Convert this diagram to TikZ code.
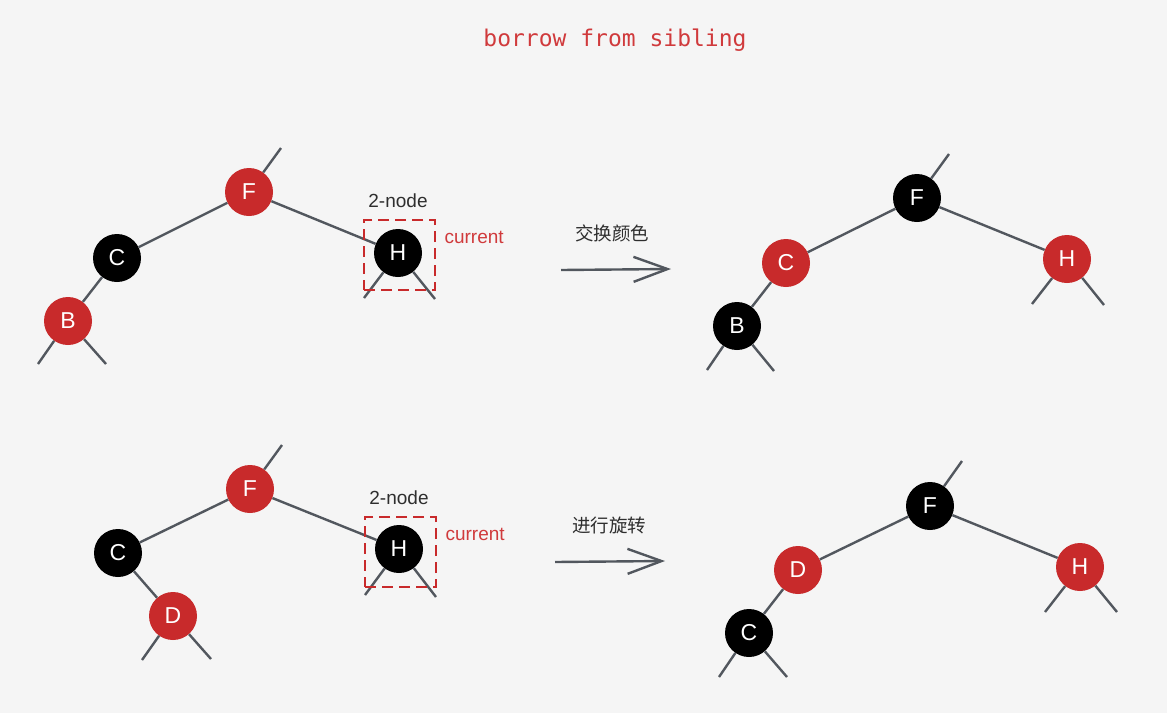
\documentclass[tikz,border=0pt]{standalone}
\usepackage{fontspec}
\setmainfont{Liberation Sans}
\newfontfamily\monof{DejaVu Sans Mono}
\newfontfamily\cjk{Noto Sans CJK SC}
\usetikzlibrary{arrows.meta}
\definecolor{bgc}{HTML}{F5F5F5}
\definecolor{rbt}{HTML}{C82A2B}
\definecolor{edgec}{HTML}{52575E}
\definecolor{lblred}{HTML}{D03A3C}
\definecolor{txtc}{HTML}{2E2E2E}
\tikzset{
  rbnode/.style={circle, minimum size=48pt, inner sep=0pt, text=white, font=\fontsize{23}{23}\selectfont},
  rednode/.style={rbnode, fill=rbt},
  blknode/.style={rbnode, fill=black},
  edge/.style={draw=edgec, line width=2.4pt},
  curbox/.style={draw=rbt, dash pattern=on 11pt off 6pt, line width=2pt, minimum width=71pt, minimum height=70pt, inner sep=0pt},
  small/.style={font=\fontsize{19}{19}\selectfont},
  bigarrow/.style={draw=edgec, line width=2.4pt, -{Straight Barb[length=34pt, width=25pt, line width=2.4pt]}},
  cjklbl/.style={font=\cjk\fontsize{18.5}{19}\selectfont, text=txtc}
}
\begin{document}
\begin{tikzpicture}[x=1pt,y=-1pt]
\fill[bgc] (0,0) rectangle (1167,713);

% title
\node[font=\monof\fontsize{23}{23}\selectfont, text=lblred] (title) at (615,40) {borrow from sibling};

% ---------- top left tree ----------
\node[rednode] (F1) at (249,192) {F};
\node[blknode] (C1) at (117,258) {C};
\node[rednode] (B1) at (68,321) {B};
\node[blknode] (H1) at (398,253) {H};
\coordinate (F1p) at (281,148);
\coordinate (B1l) at (38,364);
\coordinate (B1r) at (106,364);
\coordinate (H1l) at (364,298);
\coordinate (H1r) at (435,299);
\draw[edge] (F1) -- (F1p);
\draw[edge] (F1) -- (C1);
\draw[edge] (F1) -- (H1);
\draw[edge] (C1) -- (B1);
\draw[edge] (B1) -- (B1l);
\draw[edge] (B1) -- (B1r);
\draw[edge] (H1) -- (H1l);
\draw[edge] (H1) -- (H1r);
\node[curbox] (box1) at (399.5,255) {};
\node[small, text=txtc] (two1) at (398,201) {2-node};
\node[small, text=lblred, anchor=west] (cur1) at (441,237) {current};

% top arrow
\coordinate (a1s) at (561,270);
\coordinate (a1e) at (671,269);
\draw[bigarrow] (a1s) -- (a1e);
\node[cjklbl] (lbl1) at (612,233) {交换颜色};

% ---------- top right tree ----------
\node[blknode] (F2) at (917,198) {F};
\node[rednode] (C2) at (786,263) {C};
\node[blknode] (B2) at (737,326) {B};
\node[rednode] (H2) at (1067,259) {H};
\coordinate (F2p) at (949,154);
\coordinate (B2l) at (707,370);
\coordinate (B2r) at (774,371);
\coordinate (H2l) at (1032,304);
\coordinate (H2r) at (1104,305);
\draw[edge] (F2) -- (F2p);
\draw[edge] (F2) -- (C2);
\draw[edge] (F2) -- (H2);
\draw[edge] (C2) -- (B2);
\draw[edge] (B2) -- (B2l);
\draw[edge] (B2) -- (B2r);
\draw[edge] (H2) -- (H2l);
\draw[edge] (H2) -- (H2r);

% ---------- bottom left tree ----------
\node[rednode] (F3) at (250,489) {F};
\node[blknode] (C3) at (118,553) {C};
\node[rednode] (D3) at (173,616) {D};
\node[blknode] (H3) at (399,549) {H};
\coordinate (F3p) at (282,445);
\coordinate (D3l) at (142,660);
\coordinate (D3r) at (211,659);
\coordinate (H3l) at (365,595);
\coordinate (H3r) at (436,597);
\draw[edge] (F3) -- (F3p);
\draw[edge] (F3) -- (C3);
\draw[edge] (F3) -- (H3);
\draw[edge] (C3) -- (D3);
\draw[edge] (D3) -- (D3l);
\draw[edge] (D3) -- (D3r);
\draw[edge] (H3) -- (H3l);
\draw[edge] (H3) -- (H3r);
\node[curbox] (box3) at (400.5,552) {};
\node[small, text=txtc] (two3) at (399,498) {2-node};
\node[small, text=lblred, anchor=west] (cur3) at (442,534) {current};

% bottom arrow
\coordinate (a2s) at (555,562);
\coordinate (a2e) at (665,561);
\draw[bigarrow] (a2s) -- (a2e);
\node[cjklbl] (lbl2) at (609,525) {进行旋转};

% ---------- bottom right tree ----------
\node[blknode] (F4) at (930,506) {F};
\node[rednode] (D4) at (798,570) {D};
\node[blknode] (C4) at (749,633) {C};
\node[rednode] (H4) at (1080,567) {H};
\coordinate (F4p) at (962,461);
\coordinate (C4l) at (719,677);
\coordinate (C4r) at (787,677);
\coordinate (H4l) at (1045,612);
\coordinate (H4r) at (1117,612);
\draw[edge] (F4) -- (F4p);
\draw[edge] (F4) -- (D4);
\draw[edge] (F4) -- (H4);
\draw[edge] (D4) -- (C4);
\draw[edge] (C4) -- (C4l);
\draw[edge] (C4) -- (C4r);
\draw[edge] (H4) -- (H4l);
\draw[edge] (H4) -- (H4r);
\end{tikzpicture}
\end{document}
